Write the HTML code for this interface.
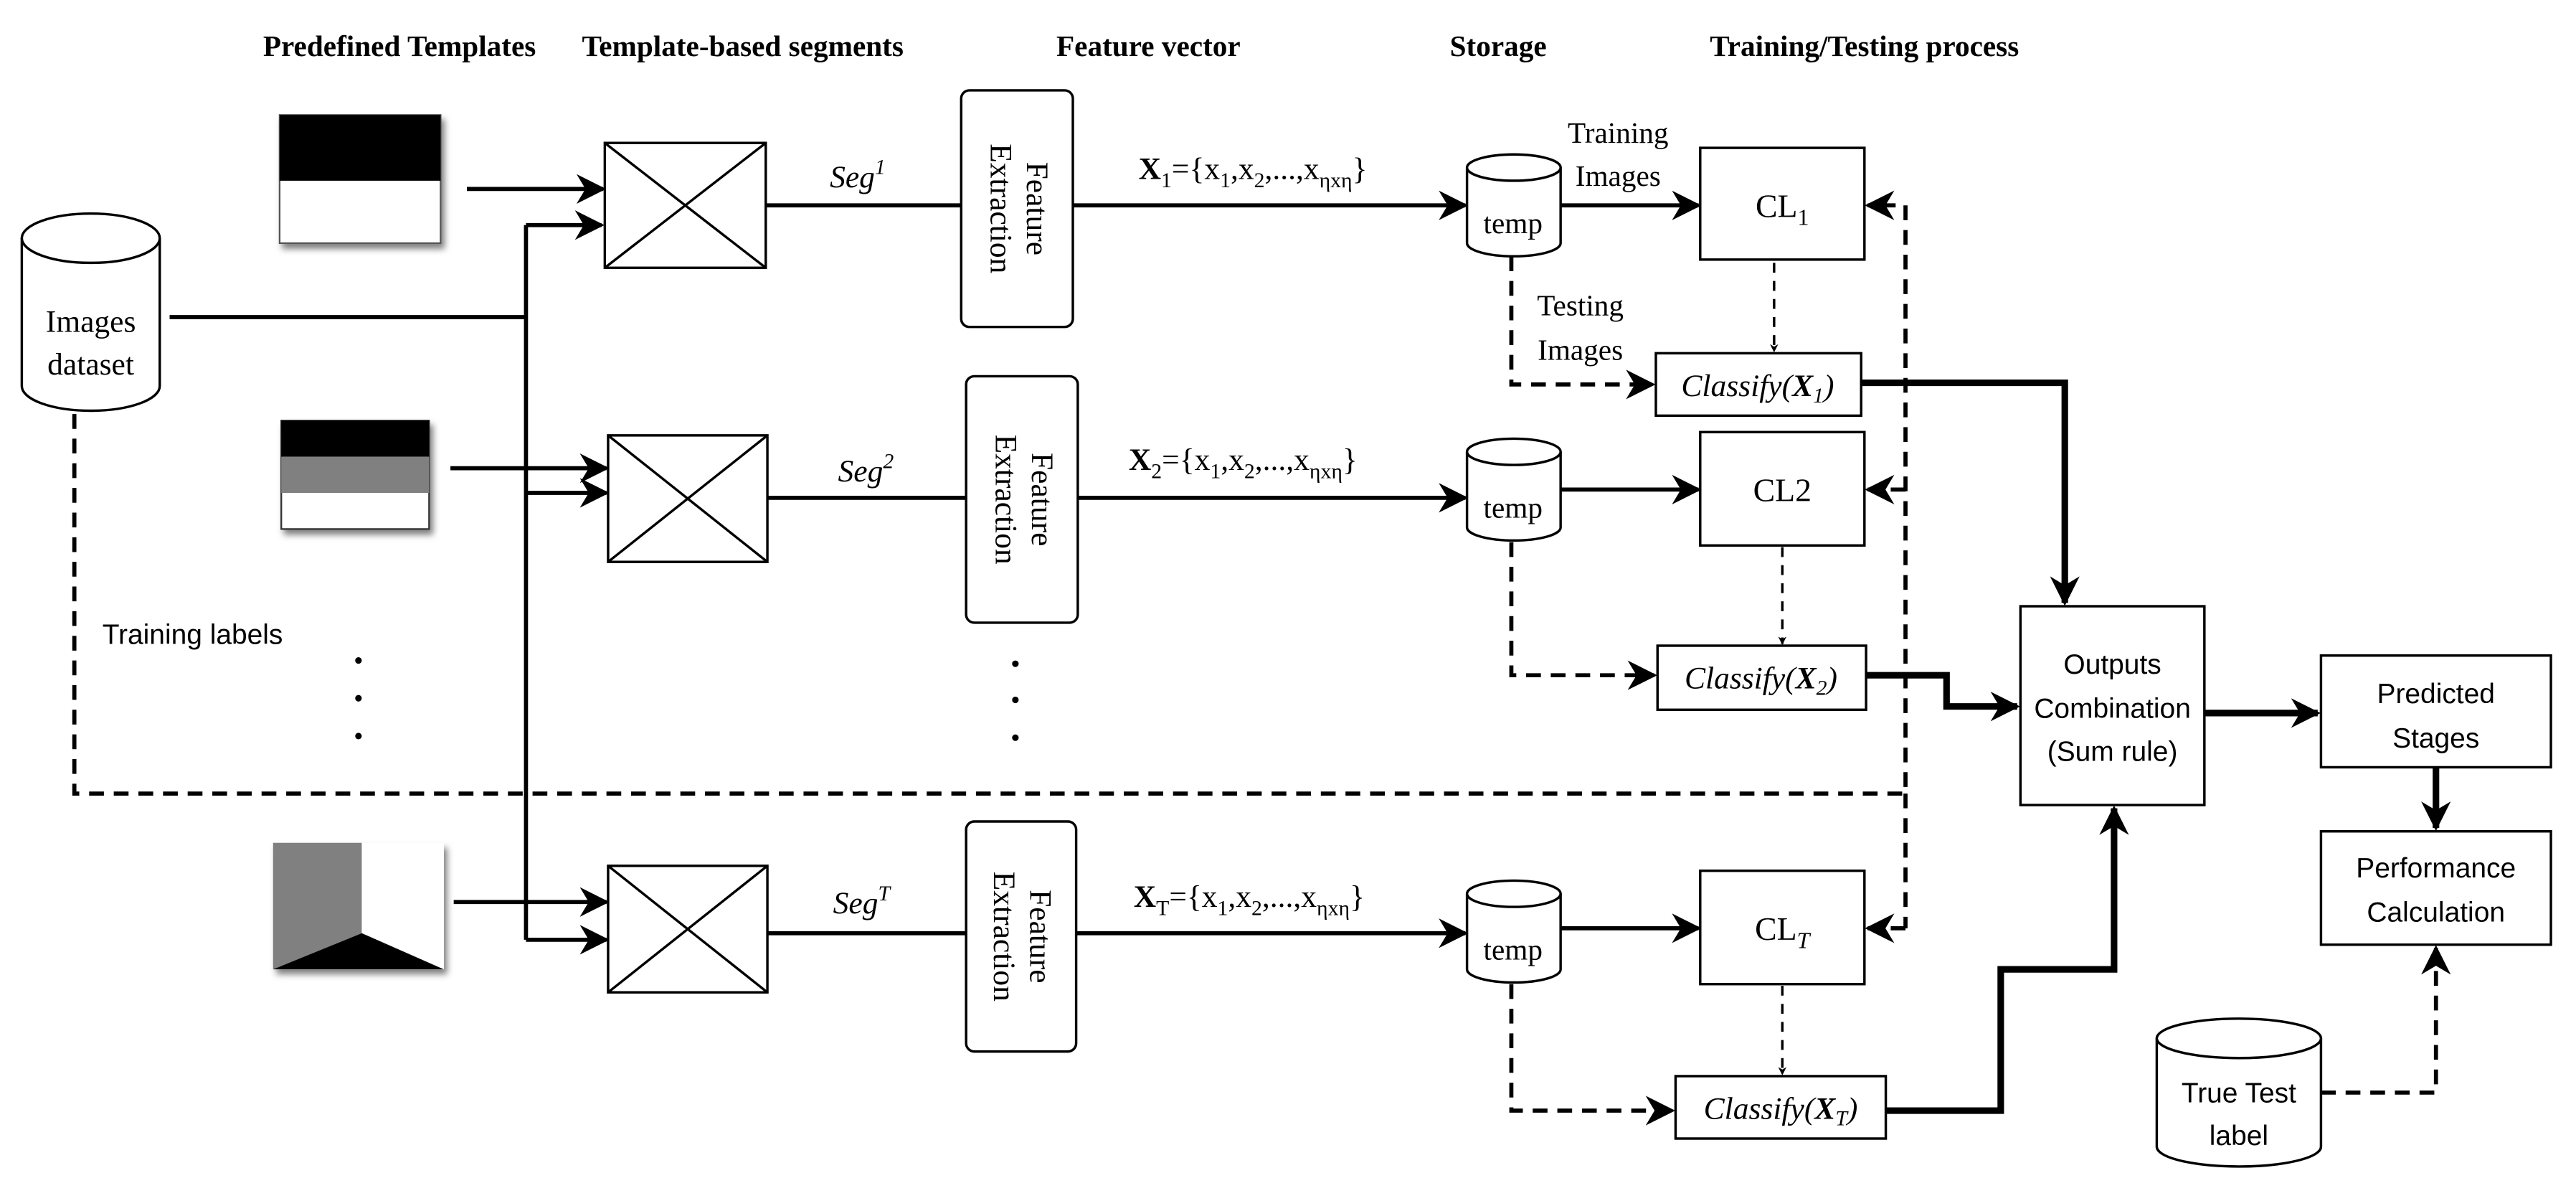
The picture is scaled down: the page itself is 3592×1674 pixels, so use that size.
<!DOCTYPE html>
<html><head><meta charset="utf-8"><style>
html,body{margin:0;padding:0;background:#fff;}
svg{display:block;}
</style></head><body>
<svg width="3592" height="1674" viewBox="0 0 1568 731" xmlns="http://www.w3.org/2000/svg" font-family="'Liberation Serif', serif">
<defs>
<marker id="a" viewBox="0 0 10 10" refX="9" refY="5" markerWidth="5" markerHeight="5" orient="auto" markerUnits="userSpaceOnUse"><path d="M0,0 L10,5 L0,10 L3,5z" fill="#000"/></marker>
<marker id="ab" viewBox="0 0 10 10" refX="9" refY="5" markerWidth="18" markerHeight="18" orient="auto" markerUnits="userSpaceOnUse"><path d="M0,0 L10,5 L0,10 L3,5z" fill="#000"/></marker>
<filter id="sh"><feDropShadow dx="2" dy="3" stdDeviation="2" flood-opacity="0.5"/></filter>
</defs>
<g font-weight="bold" font-size="18" text-anchor="middle" font-family="'Liberation Serif', serif">
<text x="243" y="34">Predefined Templates</text>
<text x="452" y="34">Template-based segments</text>
<text x="699" y="34">Feature vector</text>
<text x="912" y="34">Storage</text>
<text x="1135" y="34">Training/Testing  process</text>
</g>
<g fill="#fff" stroke="#000" stroke-width="1.5">
<path d="M13,145 L13,235 A42,15 0 0 0 97,235 L97,145"/>
<ellipse cx="55" cy="145" rx="42" ry="15"/>
</g>
<text x="55" y="202" font-size="19" text-anchor="middle">Images</text>
<text x="55" y="228" font-size="19" text-anchor="middle">dataset</text>
<g filter="url(#sh)">
<rect x="170" y="70" width="98" height="78" fill="#fff" stroke="#555"/>
<rect x="170" y="70" width="98" height="40" fill="#000"/>
<rect x="171" y="256" width="90" height="66" fill="#fff" stroke="#333"/>
<rect x="171" y="256" width="90" height="22" fill="#000"/>
<rect x="171" y="278" width="90" height="22" fill="#808080"/>
<rect x="166" y="513" width="104" height="77" fill="#fff"/>
</g>
<polygon points="166,513 220,513 220,568 166,590" fill="#808080"/>
<polygon points="166,590 220,568 270,590" fill="#000"/>
<g fill="#000"><circle cx="218" cy="402" r="2"/><circle cx="218" cy="425" r="2"/><circle cx="218" cy="448" r="2"/>
<circle cx="618" cy="404" r="2"/><circle cx="618" cy="426" r="2"/><circle cx="618" cy="449" r="2"/></g>
<g stroke="#000" stroke-width="2.5" fill="none">
<line x1="284" y1="115" x2="367" y2="115" marker-end="url(#ab)"/>
<polyline points="103,193 320,193"/>
<polyline points="320,137 320,572"/>
<line x1="320" y1="137" x2="366" y2="137" marker-end="url(#ab)"/>
<line x1="274" y1="285" x2="369" y2="285" marker-end="url(#ab)"/>
<line x1="320" y1="300" x2="369" y2="300" marker-end="url(#ab)"/>
<line x1="276" y1="549" x2="369" y2="549" marker-end="url(#ab)"/>
<line x1="320" y1="572" x2="369" y2="572" marker-end="url(#ab)"/>
</g>
<g stroke="#000" stroke-width="1.5" fill="#fff">
<rect x="368" y="87" width="98" height="76"/><path d="M368,87 L466,163 M466,87 L368,163"/>
<rect x="370" y="265" width="97" height="77"/><path d="M370,265 L467,342 M467,265 L370,342"/>
<rect x="370" y="527" width="97" height="77"/><path d="M370,527 L467,604 M467,527 L370,604"/>
</g>
<g stroke="#000" stroke-width="2.5">
<line x1="466" y1="125" x2="585" y2="125"/>
<line x1="467" y1="303" x2="588" y2="303"/>
<line x1="467" y1="568" x2="588" y2="568"/>
<line x1="653" y1="125" x2="892" y2="125" marker-end="url(#ab)"/>
<line x1="656" y1="303" x2="892" y2="303" marker-end="url(#ab)"/>
<line x1="655" y1="568" x2="892" y2="568" marker-end="url(#ab)"/>
</g>
<g font-size="19" font-style="italic">
<text x="505" y="114">Seg<tspan font-size="13" dy="-8">1</tspan></text>
<text x="510" y="293">Seg<tspan font-size="13" dy="-8">2</tspan></text>
<text x="507" y="556">Seg<tspan font-size="13" dy="-8">T</tspan></text>
</g>
<g stroke="#000" stroke-width="1.5" fill="#fff">
<rect x="585" y="55" width="68" height="144" rx="5"/>
<rect x="588" y="229" width="68" height="150" rx="5"/>
<rect x="588" y="500" width="67" height="140" rx="5"/>
</g>
<g font-size="19" text-anchor="middle">
<text transform="translate(619,127) rotate(90)"><tspan x="0" y="-6">Feature</tspan><tspan x="0" y="16">Extraction</tspan></text>
<text transform="translate(622,304) rotate(90)"><tspan x="0" y="-6">Feature</tspan><tspan x="0" y="16">Extraction</tspan></text>
<text transform="translate(621,570) rotate(90)"><tspan x="0" y="-6">Feature</tspan><tspan x="0" y="16">Extraction</tspan></text>
</g>
<g font-size="19">
<text x="693" y="109"><tspan font-weight="bold">X</tspan><tspan font-size="13" dy="5">1</tspan><tspan dy="-5">={x</tspan><tspan font-size="13" dy="5">1</tspan><tspan dy="-5">,x</tspan><tspan font-size="13" dy="5">2</tspan><tspan dy="-5">,...,x</tspan><tspan font-size="13" dy="5">ηxη</tspan><tspan dy="-5">}</tspan></text>
<text x="687" y="286"><tspan font-weight="bold">X</tspan><tspan font-size="13" dy="5">2</tspan><tspan dy="-5">={x</tspan><tspan font-size="13" dy="5">1</tspan><tspan dy="-5">,x</tspan><tspan font-size="13" dy="5">2</tspan><tspan dy="-5">,...,x</tspan><tspan font-size="13" dy="5">ηxη</tspan><tspan dy="-5">}</tspan></text>
<text x="690" y="552"><tspan font-weight="bold">X</tspan><tspan font-size="13" dy="5">T</tspan><tspan dy="-5">={x</tspan><tspan font-size="13" dy="5">1</tspan><tspan dy="-5">,x</tspan><tspan font-size="13" dy="5">2</tspan><tspan dy="-5">,...,x</tspan><tspan font-size="13" dy="5">ηxη</tspan><tspan dy="-5">}</tspan></text>
</g>
<g fill="#fff" stroke="#000" stroke-width="1.5">
<path d="M893,102 L893,148 A28.5,8 0 0 0 950,148 L950,102"/><ellipse cx="921.5" cy="102" rx="28.5" ry="8"/>
<path d="M893,275 L893,321 A28.5,8 0 0 0 950,321 L950,275"/><ellipse cx="921.5" cy="275" rx="28.5" ry="8"/>
<path d="M893,544 L893,590 A28.5,8 0 0 0 950,590 L950,544"/><ellipse cx="921.5" cy="544" rx="28.5" ry="8"/>
</g>
<g font-size="18" text-anchor="middle">
<text x="921" y="142">temp</text><text x="921" y="315">temp</text><text x="921" y="584">temp</text>
</g>
<g stroke="#000" stroke-width="1.5" fill="#fff">
<rect x="1035" y="90" width="100" height="68"/>
<rect x="1035" y="263" width="100" height="69"/>
<rect x="1035" y="530" width="100" height="69"/>
<rect x="1008" y="215" width="125" height="38"/>
<rect x="1009" y="393" width="127" height="39"/>
<rect x="1020" y="655" width="128" height="38"/>
<rect x="1230" y="369" width="112" height="121"/>
<rect x="1413" y="399" width="140" height="68"/>
<rect x="1413" y="506" width="140" height="69"/>
</g>
<g font-size="20" text-anchor="middle">
<text x="1085" y="132">CL<tspan font-size="14" dy="5">1</tspan></text>
<text x="1085" y="305">CL2</text>
<text x="1085" y="572">CL<tspan font-size="14" dy="5" font-style="italic">T</tspan></text>
</g>
<g font-size="19" font-style="italic" text-anchor="middle">
<text x="1070" y="241">Classify(<tspan font-weight="bold">X</tspan><tspan font-size="13" dy="4">1</tspan><tspan dy="-4">)</tspan></text>
<text x="1072" y="419">Classify(<tspan font-weight="bold">X</tspan><tspan font-size="13" dy="4">2</tspan><tspan dy="-4">)</tspan></text>
<text x="1084" y="681">Classify(<tspan font-weight="bold">X</tspan><tspan font-size="13" dy="4">T</tspan><tspan dy="-4">)</tspan></text>
</g>
<g font-size="18" text-anchor="middle">
<text x="985" y="87">Training</text><text x="985" y="113">Images</text>
<text x="962" y="192">Testing</text><text x="962" y="219">Images</text>
</g>
<g font-size="17" text-anchor="middle" font-family="'Liberation Sans', sans-serif">
<text x="1286" y="410">Outputs</text><text x="1286" y="437">Combination</text><text x="1286" y="463">(Sum rule)</text>
<text x="1483" y="428">Predicted</text><text x="1483" y="455">Stages</text>
<text x="1483" y="534">Performance</text><text x="1483" y="561">Calculation</text>
<text x="117" y="392">Training labels</text>
</g>
<g fill="#fff" stroke="#000" stroke-width="1.5">
<path d="M1313,632 L1313,698 A50,12 0 0 0 1413,698 L1413,632"/><ellipse cx="1363" cy="632" rx="50" ry="12"/>
</g>
<g font-size="17" text-anchor="middle" font-family="'Liberation Sans', sans-serif">
<text x="1363" y="671">True Test</text>
<text x="1363" y="697">label</text>
</g>
<g stroke="#000" stroke-width="2.5" fill="none">
<line x1="950" y1="125" x2="1034" y2="125" marker-end="url(#ab)"/>
<line x1="950" y1="298" x2="1034" y2="298" marker-end="url(#ab)"/>
<line x1="950" y1="565" x2="1034" y2="565" marker-end="url(#ab)"/>
</g>
<g stroke="#000" stroke-width="2.5" fill="none" stroke-dasharray="9,6">
<polyline points="920,156 920,234 1006,234" marker-end="url(#ab)"/>
<polyline points="920,330 920,411 1007,411" marker-end="url(#ab)"/>
<polyline points="920,599 920,676 1018,676" marker-end="url(#ab)"/>
<polyline points="45,252 45,483 1160,483 1160,125 1137,125" marker-end="url(#ab)"/>
<line x1="1160" y1="298" x2="1137" y2="298" marker-end="url(#ab)"/>
<line x1="1160" y1="483" x2="1160" y2="565"/>
<line x1="1160" y1="565" x2="1137" y2="565" marker-end="url(#ab)"/>
<polyline points="1413,665 1483,665 1483,577" marker-end="url(#ab)"/>
</g>
<g stroke="#000" stroke-width="1.5" fill="none" stroke-dasharray="6,5">
<line x1="1080" y1="160" x2="1080" y2="214" marker-end="url(#a)"/>
<line x1="1085" y1="333" x2="1085" y2="392" marker-end="url(#a)"/>
<line x1="1085" y1="600" x2="1085" y2="654" marker-end="url(#a)"/>
</g>
<g stroke="#000" stroke-width="4" fill="none">
<polyline points="1133,233 1257,233 1257,367" marker-end="url(#ab)"/>
<polyline points="1136,411 1185,411 1185,430 1228,430" marker-end="url(#ab)"/>
<polyline points="1148,676 1218,676 1218,590 1287,590 1287,492" marker-end="url(#ab)"/>
<line x1="1342" y1="434" x2="1411" y2="434" marker-end="url(#ab)"/>
<line x1="1483" y1="467" x2="1483" y2="504" marker-end="url(#ab)"/>
</g>
</svg>
</body></html>
